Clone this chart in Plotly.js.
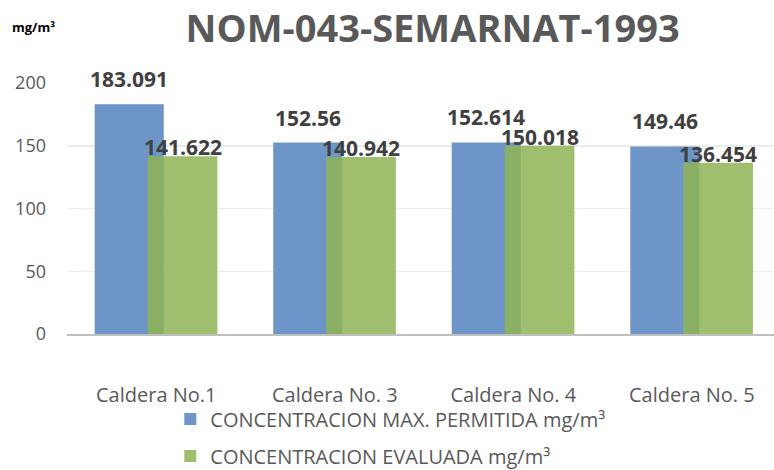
<!DOCTYPE html>
<html>
<head>
<meta charset="utf-8">
<script src="https://cdn.plot.ly/plotly-3.0.1.min.js"></script>
<style>html,body{margin:0;padding:0;background:#fff;}#chart{width:774px;height:470px;}</style>
</head>
<body>
<div id="chart"></div>
<script>
const categories = ["Caldera No.1", "Caldera No. 3", "Caldera No. 4", "Caldera No. 5"];
const maxPermitida = [183.091, 152.56, 152.614, 149.46];
const evaluada = [141.622, 140.942, 150.018, 136.454];
const seriesNames = ["CONCENTRACION MAX. PERMITIDA mg/m³", "CONCENTRACION EVALUADA mg/m³"];
const yTicks = [0, 50, 100, 150, 200];

const FONT = "Open Sans, DejaVu Sans, sans-serif";

// bar geometry (category units)
const blueOffset = -0.345, blueWidth = 0.387;
const greenOffset = -0.048, greenWidth = 0.39;

const traces = [
  {
    type: "bar", x: categories, y: maxPermitida, name: seriesNames[0],
    offset: blueOffset, width: blueWidth,
    marker: {color: "#6d95c7"},
    legendgroup: "a", hoverinfo: "y"
  },
  {
    type: "bar", x: categories, y: evaluada, name: seriesNames[1],
    offset: greenOffset, width: greenWidth,
    marker: {color: "rgba(143,180,86,0.86)"},
    legendgroup: "b", hoverinfo: "y"
  }
];

const labelFont = {family: FONT, size: 21, color: "#404040", weight: 700};
const annotations = [];
categories.forEach((c, i) => {
  annotations.push({
    x: i + blueOffset + blueWidth / 2, y: maxPermitida[i], xref: "x", yref: "y",
    text: String(maxPermitida[i]), showarrow: false, yanchor: "bottom", yshift: 9,
    font: labelFont
  });
  annotations.push({
    x: i + greenOffset + greenWidth / 2, y: evaluada[i], xref: "x", yref: "y",
    text: String(evaluada[i]), showarrow: false, yanchor: "bottom", yshift: -7,
    font: labelFont
  });
});
annotations.push({
  text: "mg/m³", xref: "paper", yref: "paper",
  x: -0.0806, xanchor: "left", y: 1.223, yanchor: "middle",
  showarrow: false, font: {family: FONT, size: 13, color: "#000000", weight: 700}
});

const layout = {
  width: 774, height: 470,
  margin: {l: 67, r: 0, t: 83, b: 136, autoexpand: false},
  paper_bgcolor: "#ffffff", plot_bgcolor: "#ffffff",
  barmode: "overlay",
  font: {family: FONT, color: "#595959"},
  title: {
    text: "NOM-043-SEMARNAT-1993",
    font: {family: FONT, size: 38, color: "#595959", weight: 700},
    xref: "container", x: 0.559, xanchor: "center",
    yref: "container", y: 0.94, yanchor: "middle"
  },
  xaxis: {
    type: "category", range: [-0.5, 3.46], automargin: false, tickangle: 0,
    showline: true, linecolor: "#bfbfbf", linewidth: 1.5,
    showgrid: false, ticks: "", ticklabelstandoff: 42,
    tickfont: {family: FONT, size: 20, color: "#595959"}
  },
  yaxis: {
    range: [0, 200], tickvals: yTicks, ticktext: yTicks.map(String), automargin: false,
    showline: false, zeroline: false, showgrid: true, gridcolor: "#ececec", gridwidth: 1.5,
    ticks: "", ticklabelstandoff: 20,
    tickfont: {family: FONT, size: 18, color: "#595959"}
  },
  showlegend: true,
  legend: {
    orientation: "v", traceorder: "grouped", tracegroupgap: 8,
    xref: "container", yref: "container",
    x: 0.22, xanchor: "left", y: 0.15, yanchor: "top",
    font: {family: FONT, size: 20, color: "#595959"},
    bgcolor: "rgba(0,0,0,0)"
  },
  annotations: annotations
};

Plotly.newPlot("chart", traces, layout, {displayModeBar: false, staticPlot: true});
</script>
</body>
</html>
